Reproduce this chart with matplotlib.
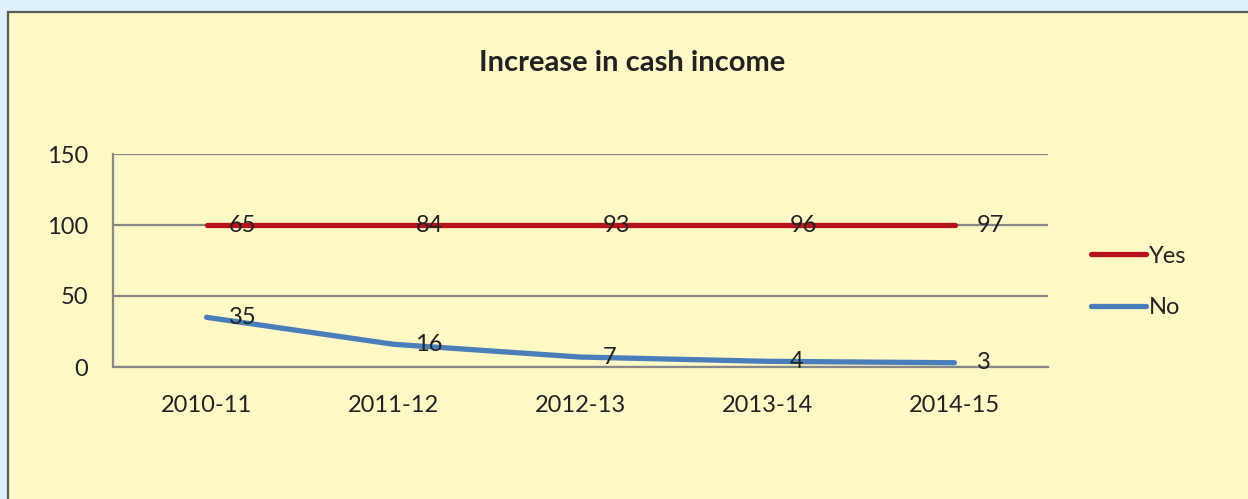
import numpy as np
import matplotlib.pyplot as plt
from matplotlib.patches import Rectangle

# data
years = ['2010-11', '2011-12', '2012-13', '2013-14', '2014-15']
no_vals = [35, 16, 7, 4, 3]
yes_vals = [65, 84, 93, 96, 97]
y_ticks = [0, 50, 100, 150]

plt.rcParams['font.family'] = ['Lato', 'DejaVu Sans']

W, H = 1248, 499
fig = plt.figure(figsize=(W / 100, H / 100), dpi=100)
fig.patch.set_facecolor('#ddf0fd')

# yellow panel with grey border, running off right and bottom edges
panel = Rectangle((8 / W, -0.1), 1.2, (H - 12) / H + 0.1, transform=fig.transFigure,
                  facecolor='#fff9c5', edgecolor='#5a5a5a', linewidth=1.6, zorder=-10)
fig.patches.append(panel)

ax = fig.add_axes([113 / W, (H - 367) / H, 935 / W, 213 / H])
ax.set_facecolor('none')

x = np.arange(len(years))
stacked_yes = np.array(no_vals) + np.array(yes_vals)

ax.plot(x, stacked_yes, color='#b8131c', lw=3.8, solid_capstyle='round', label='Yes', zorder=3)
ax.plot(x, no_vals, color='#4a7ebb', lw=3.8, solid_capstyle='round', label='No', zorder=3)

for xi, yv, lab in zip(x, stacked_yes, yes_vals):
    ax.annotate(str(lab), (xi, yv), xytext=(22, 0), textcoords='offset pixels',
                ha='left', va='center', fontsize=17, color='#222222', zorder=4)
for xi, yv in zip(x, no_vals):
    ax.annotate(str(yv), (xi, yv), xytext=(22, 0), textcoords='offset pixels',
                ha='left', va='center', fontsize=17, color='#222222', zorder=4)

ax.set_xlim(-0.5, len(years) - 0.5)
ax.set_ylim(0, 150)
ax.set_yticks(y_ticks)
ax.set_xticks(x)
ax.set_xticklabels(years)
ax.tick_params(axis='both', length=0, labelsize=17, colors='#222222')
ax.tick_params(axis='y', pad=18)
ax.tick_params(axis='x', pad=20)
ax.yaxis.grid(True, color='#888888', lw=1.6)
ax.set_axisbelow(True)
for s in ['top', 'right']:
    ax.spines[s].set_visible(False)
for s in ['left', 'bottom']:
    ax.spines[s].set_color('#888888')
    ax.spines[s].set_linewidth(1.6)

fig.text(632 / W, 1 - 63 / H, 'Increase in cash income', ha='center', va='center',
         fontsize=21, fontweight='bold', color='#222222')

leg = fig.legend(loc='center left', bbox_to_anchor=(1070 / W, 1 - 282 / H), frameon=False,
                 fontsize=17, handlelength=2.3, handletextpad=0.15, labelspacing=1.3)
for t in leg.get_texts():
    t.set_color('#222222')

fig.savefig('out.png', dpi=100, facecolor=fig.get_facecolor())
